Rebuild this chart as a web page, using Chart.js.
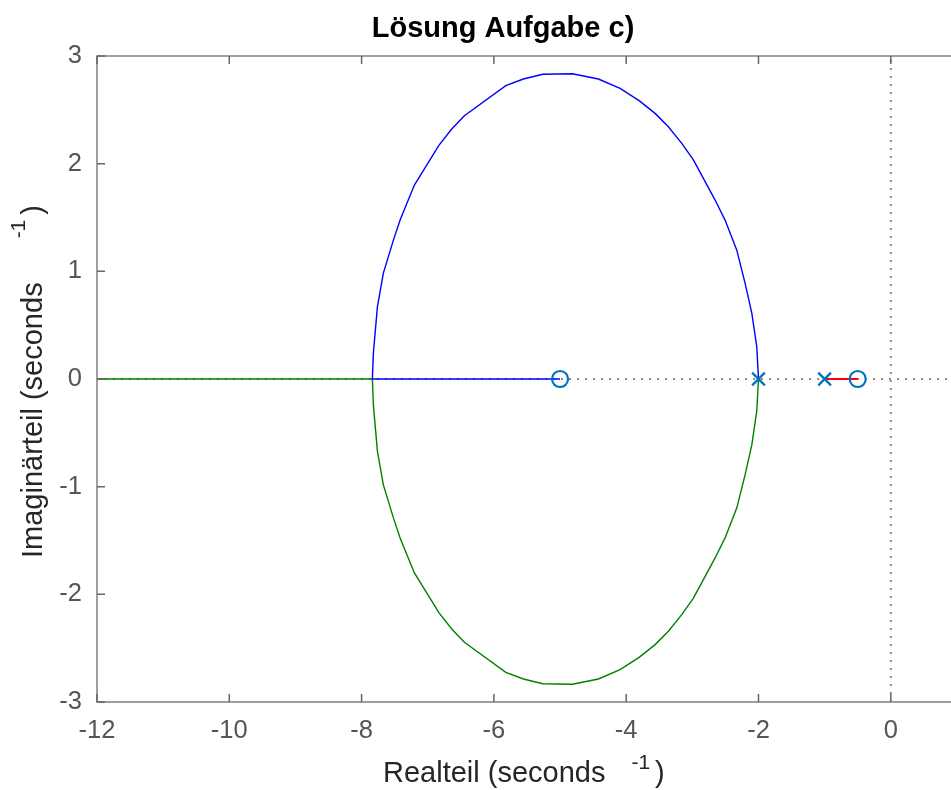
<!DOCTYPE html>
<html>
<head>
<meta charset="utf-8">
<script src="https://cdn.jsdelivr.net/npm/chart.js@4/dist/chart.umd.min.js"></script>
<style>
  body { margin: 0; background: #fff; }
  #plot { display: block; }
</style>
</head>
<body>
<canvas id="plot" width="951" height="790"></canvas>
<script>
/* axis ranges and ticks */
const xMin = -12
const xMax = 0.88
const yMin = -3
const yMax = 3
const xTicks = [-12, -10, -8, -6, -4, -2, 0]
const yTicks = [-3, -2, -1, 0, 1, 2, 3]

/* upper branch of the locus, from the double pole at -2 to the break-in point */
const upperRe = [-2.0, -2.026, -2.101, -2.203, -2.328, -2.505, -2.656, -2.833, -2.984, -3.160, -3.362, -3.563, -3.805, -4.092, -4.420, -4.813, -5.261, -5.554, -5.820, -6.446, -6.637, -6.829, -7.202, -7.418, -7.519, -7.671, -7.761, -7.822, -7.837]
const upperIm = [0, 0.298, 0.612, 0.891, 1.197, 1.476, 1.662, 1.863, 2.035, 2.189, 2.343, 2.467, 2.585, 2.700, 2.786, 2.835, 2.830, 2.786, 2.724, 2.445, 2.322, 2.173, 1.801, 1.476, 1.290, 0.983, 0.670, 0.240, 0]

/* lower branch (mirror of the upper one) */
const lowerRe = upperRe
const lowerIm = upperIm.map(v => -v)

/* real axis parts */
const blueTailRe = [-7.837, -5]
const greenTailRe = [-7.837, -12]
const redRe = [-1, -0.5]

/* poles and zeros */
const polesRe = [-2, -1]
const polesIm = [0, 0]
const zerosRe = [-5, -0.5]
const zerosIm = [0, 0]

const toPts = (re, im) => re.map((x, i) => ({ x, y: im ? im[i] : 0 }))

const bluePts = toPts(upperRe, upperIm).concat(toPts(blueTailRe))
const greenPts = toPts(lowerRe, lowerIm).concat(toPts(greenTailRe))

const FONT = "'Liberation Sans', Arial, Helvetica, sans-serif"
const markerColor = '#0072BD'

/* box, inner ticks, tick labels, title and axis labels */
const decor = {
  id: 'decor',
  afterDraw(chart) {
    const { ctx, chartArea: a, scales } = chart
    const xs = scales.x, ys = scales.y
    ctx.save()
    ctx.strokeStyle = '#808080'
    ctx.lineWidth = 1.5
    ctx.beginPath()
    ctx.moveTo(a.right + 2, a.top)
    ctx.lineTo(a.left, a.top)
    ctx.lineTo(a.left, a.bottom)
    ctx.lineTo(a.right + 2, a.bottom)
    ctx.stroke()

    ctx.strokeStyle = '#666'
    ctx.beginPath()
    xTicks.forEach(v => {
      const px = xs.getPixelForValue(v)
      ctx.moveTo(px, a.bottom); ctx.lineTo(px, a.bottom - 8)
      ctx.moveTo(px, a.top); ctx.lineTo(px, a.top + 8)
    })
    yTicks.forEach(v => {
      const py = ys.getPixelForValue(v)
      ctx.moveTo(a.left, py); ctx.lineTo(a.left + 8, py)
    })
    ctx.stroke()

    // tick labels
    ctx.fillStyle = '#555'
    ctx.font = '25.5px ' + FONT
    ctx.textAlign = 'center'
    ctx.textBaseline = 'middle'
    xTicks.forEach(v => ctx.fillText(String(v), xs.getPixelForValue(v), a.bottom + 29))
    ctx.textAlign = 'right'
    yTicks.forEach(v => ctx.fillText(String(v), a.left - 15, ys.getPixelForValue(v)))

    // title
    ctx.fillStyle = '#000'
    ctx.font = 'bold 29px ' + FONT
    ctx.textAlign = 'center'
    ctx.textBaseline = 'alphabetic'
    ctx.fillText('Lösung Aufgabe c)', 503, 37)

    // x label with superscript
    ctx.fillStyle = '#262626'
    ctx.textAlign = 'left'
    drawLabel(ctx, 'Realteil (seconds', 383, 782, 26, 13)

    // y label
    ctx.save()
    ctx.translate(42, 558)
    ctx.rotate(-Math.PI / 2)
    drawLabel(ctx, 'Imaginärteil (seconds', 0, 0, 44, 17)
    ctx.restore()

    ctx.restore()
  }
}

function drawLabel(ctx, main, x, y, gap, raise) {
  ctx.font = '29px ' + FONT
  ctx.fillText(main, x, y)
  const w = ctx.measureText(main).width
  ctx.font = '21px ' + FONT
  const supX = x + w + gap
  ctx.fillText('-1', supX, y - raise)
  const sw = ctx.measureText('-1').width
  ctx.font = '29px ' + FONT
  ctx.fillText(')', supX + sw + 5, y)
}

new Chart(document.getElementById('plot'), {
  type: 'scatter',
  data: {
    datasets: [
      {
        label: 'poles',
        data: toPts(polesRe, polesIm),
        pointStyle: 'crossRot',
        pointRadius: 9,
        pointBorderWidth: 2.2,
        borderColor: markerColor,
        backgroundColor: markerColor,
        showLine: false
      },
      {
        label: 'zeros',
        data: toPts(zerosRe, zerosIm),
        pointStyle: 'circle',
        pointRadius: 8,
        pointBorderWidth: 2.2,
        borderColor: markerColor,
        backgroundColor: 'rgba(0,0,0,0)',
        showLine: false
      },
      {
        label: 'red',
        data: toPts(redRe),
        showLine: true,
        borderColor: '#ff0000',
        borderWidth: 2,
        pointRadius: 0
      },
      {
        label: 'blue',
        data: bluePts,
        showLine: true,
        borderColor: '#0000ff',
        borderWidth: 1.4,
        pointRadius: 0
      },
      {
        label: 'green',
        data: greenPts,
        showLine: true,
        borderColor: '#008000',
        borderWidth: 1.4,
        pointRadius: 0
      },
      {
        label: 'zero line',
        data: [{ x: xMin, y: 0 }, { x: xMax, y: 0 }],
        showLine: true,
        borderColor: '#8a8a8a',
        borderWidth: 2,
        borderDash: [2, 6],
        pointRadius: 0
      },
      {
        label: 'imag axis',
        data: [{ x: 0, y: yMin }, { x: 0, y: yMax }],
        showLine: true,
        borderColor: '#8a8a8a',
        borderWidth: 2,
        borderDash: [2, 6],
        pointRadius: 0
      }
    ]
  },
  options: {
    responsive: false,
    animation: false,
    layout: { autoPadding: false, padding: { top: 56, right: 2, left: 0, bottom: 0 } },
    plugins: {
      legend: { display: false },
      title: { display: false },
      tooltip: { enabled: false }
    },
    scales: {
      x: {
        type: 'linear',
        min: xMin,
        max: xMax,
        grid: { display: false, drawTicks: false },
        border: { display: false },
        afterBuildTicks: s => { s.ticks = xTicks.map(v => ({ value: v })) },
        afterFit: s => { s.height = 88 },
        ticks: { display: false }
      },
      y: {
        type: 'linear',
        min: yMin,
        max: yMax,
        grid: { display: false, drawTicks: false },
        border: { display: false },
        afterBuildTicks: s => { s.ticks = yTicks.map(v => ({ value: v })) },
        afterFit: s => { s.width = 97 },
        ticks: { display: false }
      }
    }
  },
  plugins: [decor]
})
</script>
</body>
</html>
